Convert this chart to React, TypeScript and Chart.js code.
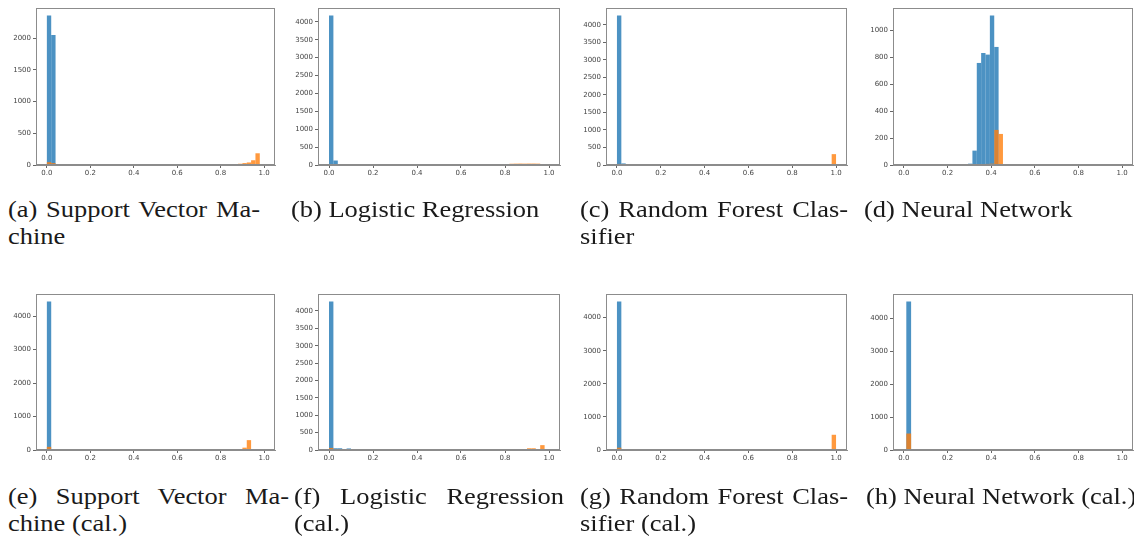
import React, { useEffect, useRef } from "react";
import { Chart, registerables } from "chart.js";

Chart.register(...registerables);

type Pair = [number, number];

// ---------- tick labels ----------
const X_TICKS = [0, 0.2, 0.4, 0.6, 0.8, 1.0];
const Y_TICKS_A = [0, 500, 1000, 1500, 2000];
const Y_TICKS_B = [0, 500, 1000, 1500, 2000, 2500, 3000, 3500, 4000];
const Y_TICKS_C = [0, 500, 1000, 1500, 2000, 2500, 3000, 3500, 4000];
const Y_TICKS_D = [0, 200, 400, 600, 800, 1000];
const Y_TICKS_E = [0, 1000, 2000, 3000, 4000];
const Y_TICKS_F = [0, 500, 1000, 1500, 2000, 2500, 3000, 3500, 4000];
const Y_TICKS_G = [0, 1000, 2000, 3000, 4000];
const Y_TICKS_H = [0, 1000, 2000, 3000, 4000];

// ---------- histogram counts: [bin centre, count] ----------
// (a) Support Vector Machine
const svmBlue: Pair[] = [
  [0.01, 2360], [0.03, 2050], [0.05, 12], [0.07, 10], [0.09, 9], [0.11, 8],
  [0.13, 7], [0.15, 0], [0.17, 6], [0.19, 5], [0.21, 0], [0.23, 5],
];
const svmOrange: Pair[] = [
  [0.01, 45], [0.03, 30], [0.15, 8], [0.83, 8], [0.85, 10], [0.87, 12],
  [0.89, 20], [0.91, 30], [0.93, 40], [0.95, 75], [0.97, 185],
];
// (b) Logistic Regression
const lrBlue: Pair[] = [
  [0.01, 4180], [0.03, 125], [0.05, 8], [0.21, 12], [0.23, 10], [0.25, 14],
  [0.27, 15], [0.29, 15], [0.31, 16], [0.33, 15], [0.35, 14], [0.37, 15],
  [0.39, 13], [0.41, 14], [0.43, 12], [0.47, 12], [0.49, 12], [0.51, 10],
  [0.53, 12], [0.55, 10], [0.57, 8],
];
const lrOrange: Pair[] = [
  [0.01, 22], [0.03, 20], [0.05, 15], [0.51, 10], [0.53, 12], [0.57, 12],
  [0.59, 14], [0.61, 14], [0.63, 15], [0.65, 14], [0.67, 15], [0.69, 16],
  [0.71, 15], [0.73, 16], [0.75, 17], [0.77, 16], [0.79, 18], [0.83, 35],
  [0.85, 38], [0.87, 40], [0.89, 38], [0.91, 40], [0.93, 40], [0.95, 38],
  [0.97, 10],
];
// (c) Random Forest Classifier
const rfBlue: Pair[] = [
  [0.01, 4265], [0.03, 45], [0.05, 18], [0.07, 16], [0.09, 15], [0.11, 15],
  [0.13, 14], [0.17, 15], [0.19, 14], [0.21, 15], [0.23, 14], [0.25, 13],
  [0.27, 14], [0.29, 12], [0.31, 12], [0.35, 12], [0.37, 10],
];
const rfOrange: Pair[] = [
  [0.01, 30], [0.65, 12], [0.67, 12], [0.73, 14], [0.75, 13], [0.77, 12],
  [0.83, 13], [0.85, 12], [0.91, 12], [0.93, 14], [0.95, 15], [0.99, 310],
];
// (d) Neural Network
const nnBins = [0.304, 0.324, 0.344, 0.364, 0.384, 0.404, 0.424, 0.444];
const nnBlueCounts = [10, 107, 759, 833, 821, 1112, 878, 0];
const nnOrangeCounts = [0, 0, 3, 6, 8, 10, 261, 231];
// (e) Support Vector Machine (cal.)
const svmCalBlue: Pair[] = [[0.01, 4440], [0.03, 0]];
const svmCalOrange: Pair[] = [
  [0.01, 95], [0.31, 15], [0.83, 20], [0.87, 18], [0.89, 0], [0.91, 70], [0.93, 295],
];
// (f) Logistic Regression (cal.)
const lrCalBlue: Pair[] = [
  [0.01, 4275], [0.03, 50], [0.05, 50], [0.09, 45], [0.15, 25], [0.17, 25],
  [0.19, 25], [0.21, 25], [0.23, 22], [0.31, 20],
];
const lrCalOrange: Pair[] = [
  [0.01, 60], [0.03, 20], [0.63, 15], [0.65, 15], [0.69, 15], [0.71, 18],
  [0.73, 18], [0.75, 18], [0.77, 20], [0.79, 18], [0.81, 20], [0.83, 20],
  [0.85, 22], [0.87, 20], [0.91, 50], [0.93, 50], [0.95, 25], [0.97, 140],
  [0.99, 25],
];
// (g) Random Forest Classifier (cal.)
const rfCalBlue: Pair[] = [[0.01, 4490], [0.03, 0]];
const rfCalOrange: Pair[] = [[0.01, 70], [0.97, 0], [0.99, 460]];
// (h) Neural Network (cal.)
const nnCalBlue: Pair[] = [[0.022, 4510], [0.044, 0]];
const nnCalOrange: Pair[] = [[0.022, 500], [0.044, 0]];

const BLUE = "rgba(31,119,180,0.8)";
const ORANGE = "rgba(255,127,14,0.8)";

const zip = (xs: number[], ys: number[]): Pair[] => xs.map((x, i) => [x, ys[i]]);

type Panel = {
  blue: Pair[];
  orange: Pair[];
  yTicks: number[];
  frame: { l: number; t: number; r: number; b: number };
};

const PANELS: Panel[] = [
  { blue: svmBlue, orange: svmOrange, yTicks: Y_TICKS_A, frame: { l: 36, t: 8, r: 275, b: 165 } },
  { blue: lrBlue, orange: lrOrange, yTicks: Y_TICKS_B, frame: { l: 318, t: 8, r: 560, b: 165 } },
  { blue: rfBlue, orange: rfOrange, yTicks: Y_TICKS_C, frame: { l: 606, t: 8, r: 847, b: 165 } },
  { blue: zip(nnBins, nnBlueCounts), orange: zip(nnBins, nnOrangeCounts), yTicks: Y_TICKS_D, frame: { l: 893, t: 8, r: 1133, b: 165 } },
  { blue: svmCalBlue, orange: svmCalOrange, yTicks: Y_TICKS_E, frame: { l: 36, t: 294, r: 275, b: 450 } },
  { blue: lrCalBlue, orange: lrCalOrange, yTicks: Y_TICKS_F, frame: { l: 318, t: 294, r: 560, b: 450 } },
  { blue: rfCalBlue, orange: rfCalOrange, yTicks: Y_TICKS_G, frame: { l: 606, t: 294, r: 847, b: 450 } },
  { blue: nnCalBlue, orange: nnCalOrange, yTicks: Y_TICKS_H, frame: { l: 893, t: 294, r: 1133, b: 450 } },
];

type Caption = { x: number; y: number; width: number; lines: string[]; justifyFirst: boolean };

const CAPTIONS: Caption[] = [
  { x: 8, y: 196, width: 252, lines: ["(a) Support Vector Ma-", "chine"], justifyFirst: true },
  { x: 291, y: 196, width: 270, lines: ["(b) Logistic Regression"], justifyFirst: false },
  { x: 580, y: 196, width: 268, lines: ["(c) Random Forest Clas-", "sifier"], justifyFirst: true },
  { x: 864, y: 196, width: 268, lines: ["(d) Neural Network"], justifyFirst: false },
  { x: 8, y: 483, width: 281, lines: ["(e) Support Vector Ma-", "chine (cal.)"], justifyFirst: true },
  { x: 294, y: 483, width: 270, lines: ["(f) Logistic Regression", "(cal.)"], justifyFirst: true },
  { x: 580, y: 483, width: 268, lines: ["(g) Random Forest Clas-", "sifier (cal.)"], justifyFirst: true },
  { x: 866, y: 483, width: 268, lines: ["(h) Neural Network (cal.)"], justifyFirst: false },
];

const CAPTION_STRETCH = 1.15;

const PAD_TOP = 10;
const PAD_RIGHT = 10;
const Y_AXIS_W = 40;
const X_AXIS_H = 20;

const framePlugin = {
  id: "frame",
  afterDatasetsDraw(chart: any) {
    const { ctx, chartArea } = chart;
    const { left, top, right, bottom } = chartArea;
    ctx.save();
    ctx.strokeStyle = "#8c8c8c";
    ctx.lineWidth = 1;
    ctx.strokeRect(left + 0.5, top + 0.5, right - left - 1, bottom - top - 1);
    ctx.restore();
  },
};

function Histogram({ panel }: { panel: Panel }) {
  const ref = useRef<HTMLCanvasElement | null>(null);
  const { l, t, r, b } = panel.frame;
  const w = r - l + Y_AXIS_W + PAD_RIGHT;
  const h = b - t + PAD_TOP + X_AXIS_H;

  useEffect(() => {
    if (!ref.current) return;
    const all = [...panel.blue, ...panel.orange].map((p) => p[1]);
    const yMax = Math.max(...all) * 1.05;
    const tickFont = { family: "DejaVu Sans", size: 7 };
    const common = {
      borderWidth: 0,
      barPercentage: 1,
      categoryPercentage: 1,
      grouped: false,
      inflateAmount: 0,
    };
    const chart = new Chart(ref.current, {
      type: "bar",
      data: {
        datasets: [
          { ...common, data: panel.blue.map(([x, y]) => ({ x, y })), backgroundColor: BLUE, order: 1 } as any,
          { ...common, data: panel.orange.map(([x, y]) => ({ x, y })), backgroundColor: ORANGE, order: 0 } as any,
        ],
      },
      options: {
        animation: false,
        responsive: false,
        maintainAspectRatio: false,
        events: [],
        layout: { padding: { top: PAD_TOP, right: PAD_RIGHT, left: 0, bottom: 0 } },
        plugins: { legend: { display: false }, tooltip: { enabled: false } },
        scales: {
          x: {
            type: "linear",
            offset: false,
            min: -0.05,
            max: 1.05,
            afterBuildTicks: (s: any) => {
              s.ticks = X_TICKS.map((v) => ({ value: v }));
            },
            afterFit: (s: any) => {
              s.height = X_AXIS_H;
            },
            ticks: {
              callback: (v: any) => Number(v).toFixed(1),
              font: tickFont,
              color: "#444",
              padding: 1,
              maxRotation: 0,
              autoSkip: false,
            },
            grid: { offset: false, drawOnChartArea: false, drawTicks: true, tickLength: 3, color: "#666" },
            border: { display: true, color: "#8c8c8c" },
          },
          y: {
            type: "linear",
            min: 0,
            max: yMax,
            afterBuildTicks: (s: any) => {
              s.ticks = panel.yTicks.map((v) => ({ value: v }));
            },
            afterFit: (s: any) => {
              s.width = Y_AXIS_W;
            },
            ticks: {
              callback: (v: any) => String(v),
              font: tickFont,
              color: "#444",
              padding: 2,
              autoSkip: false,
            },
            grid: { drawOnChartArea: false, drawTicks: true, tickLength: 3, color: "#666" },
            border: { display: true, color: "#8c8c8c" },
          },
        },
      } as any,
      plugins: [framePlugin],
    });
    return () => chart.destroy();
  }, [panel]);

  return (
    <canvas
      ref={ref}
      width={w}
      height={h}
      style={{
        position: "absolute",
        left: l - Y_AXIS_W,
        top: t - PAD_TOP,
        width: w,
        height: h,
      }}
    />
  );
}

function CaptionBlock({ c }: { c: Caption }) {
  return (
    <div
      style={{
        position: "absolute",
        left: c.x,
        top: c.y,
        width: c.width / CAPTION_STRETCH,
        transform: `scaleX(${CAPTION_STRETCH})`,
        transformOrigin: "0 0",
        fontFamily: "'Liberation Serif', serif",
        fontSize: 23,
        lineHeight: "27px",
        color: "#1a1a1a",
      }}
    >
      {c.lines.map((line, i) => (
        <div
          key={i}
          style={
            i === 0 && c.justifyFirst
              ? { textAlign: "justify", textAlignLast: "justify", whiteSpace: "nowrap" }
              : { textAlign: "left", whiteSpace: "nowrap" }
          }
        >
          {line}
        </div>
      ))}
    </div>
  );
}

export default function App() {
  return (
    <div
      style={{
        position: "fixed",
        left: 0,
        top: 0,
        width: 1134,
        height: 538,
        overflow: "hidden",
        background: "#fff",
      }}
    >
      {PANELS.map((p, i) => (
        <Histogram key={i} panel={p} />
      ))}
      {CAPTIONS.map((c, i) => (
        <CaptionBlock key={i} c={c} />
      ))}
    </div>
  );
}
